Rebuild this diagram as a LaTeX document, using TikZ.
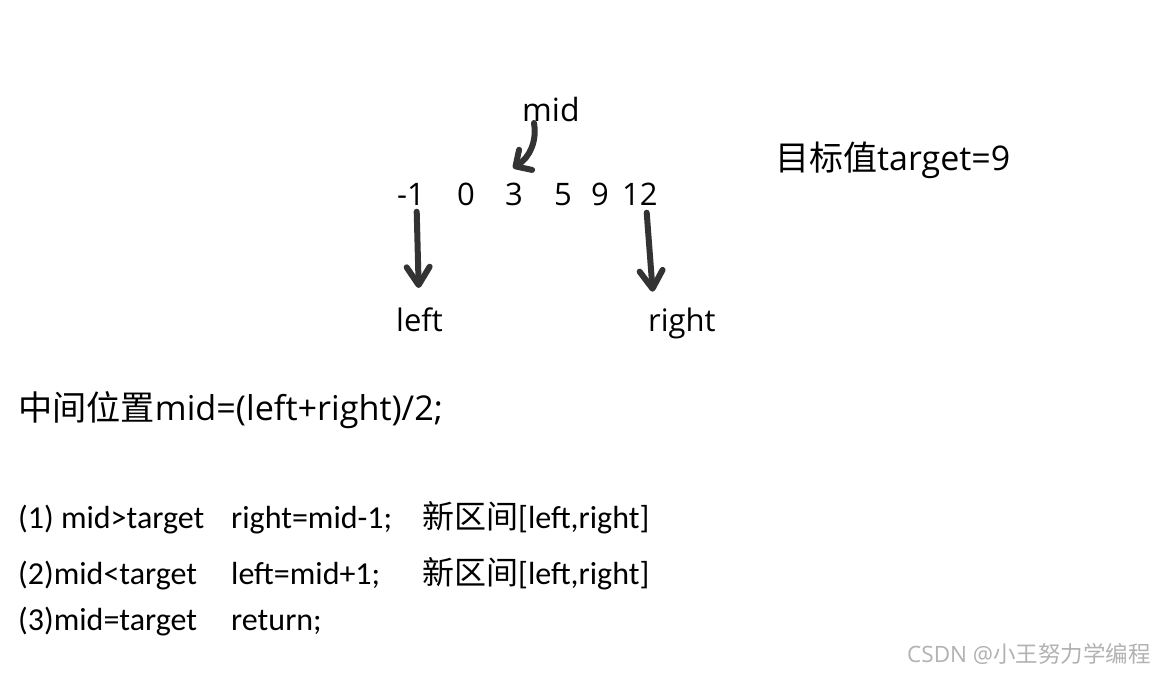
\documentclass[tikz,border=0pt]{standalone}
\usepackage{fontspec}
\usetikzlibrary{arrows.meta,calc}
\setmainfont{Open Sans}
\newfontfamily\calfont{Carlito}
\newfontfamily\cjk{Noto Sans CJK SC}
\begin{document}
\begin{tikzpicture}[x=1pt,y=-1pt,
  txt/.style={inner sep=0pt,anchor=base west,text=black},
  big/.style={txt,font=\fontsize{31}{36}\selectfont},
  huge/.style={txt,font=\fontsize{34}{38}\selectfont},
  lines/.style={txt,font=\calfont\fontsize{32}{36}\selectfont},
  hand/.style={line width=6pt,draw=black!80,line cap=round,line join=round,
    -{Straight Barb[length=18pt,width=23pt,line width=6pt,round]}},
  handsmall/.style={hand,-{Straight Barb[length=12pt,width=24pt,line width=6pt,round]}}]
\useasboundingbox[fill=white] (0,0) rectangle (1154,673);
% top labels
\node[big,font=\fontsize{32}{36}\selectfont] (mid) at (522,121) {mid};
\node[big] (n1) at (397,205) {-1};
\node[big] (n2) at (457,205) {0};
\node[big] (n3) at (505,205) {3};
\node[big] (n4) at (554,205) {5};
\node[big] (n5) at (591,205) {9};
\node[big] (n6) at (622,205) {12};
\node[big] (lft) at (396,331) {left};
\node[big] (rgt) at (648,331) {right};
\node[huge] (tgt) at (775,170) {{\cjk 目标值}target=9};
\node[huge,font=\fontsize{34.2}{40}\selectfont] (form) at (18,420) {{\cjk 中间位置}mid=(left+right)/2;};
% arrows
\draw[hand] ($(n1.base west)+(19.7,6.7)$) -- ($(lft.base west)+(22.7,-43)$);
\draw[hand] ($(n6.base west)+(24.7,7.7)$) -- ($(rgt.base west)+(4.7,-39.3)$);
\draw[handsmall] ($(mid.base west)+(12,2)$) .. controls ($(mid.base west)+(15,20)$) and ($(mid.base west)+(8,36)$) .. ($(n3.base west)+(8,-37)$);
% rules
\node[lines] (c1) at (18,528) {(1) mid>target};
\node[lines] (r1) at (231,528) {right=mid-1;};
\node[lines] (s1) at (422,528) {{\cjk 新区间}[left,right]};
\node[lines] (c2) at (18,584) {(2)mid<target};
\node[lines] (r2) at (231,584) {left=mid+1;};
\node[lines] (s2) at (422,584) {{\cjk 新区间}[left,right]};
\node[lines] (c3) at (18,630) {(3)mid=target};
\node[lines] (r3) at (231,630) {return;};
% watermark
\node[txt,font=\fontsize{22.5}{26}\selectfont,text=black!30] (wm) at (907,662) {CSDN @{\cjk 小王努力学编程}};
\end{tikzpicture}
\end{document}
